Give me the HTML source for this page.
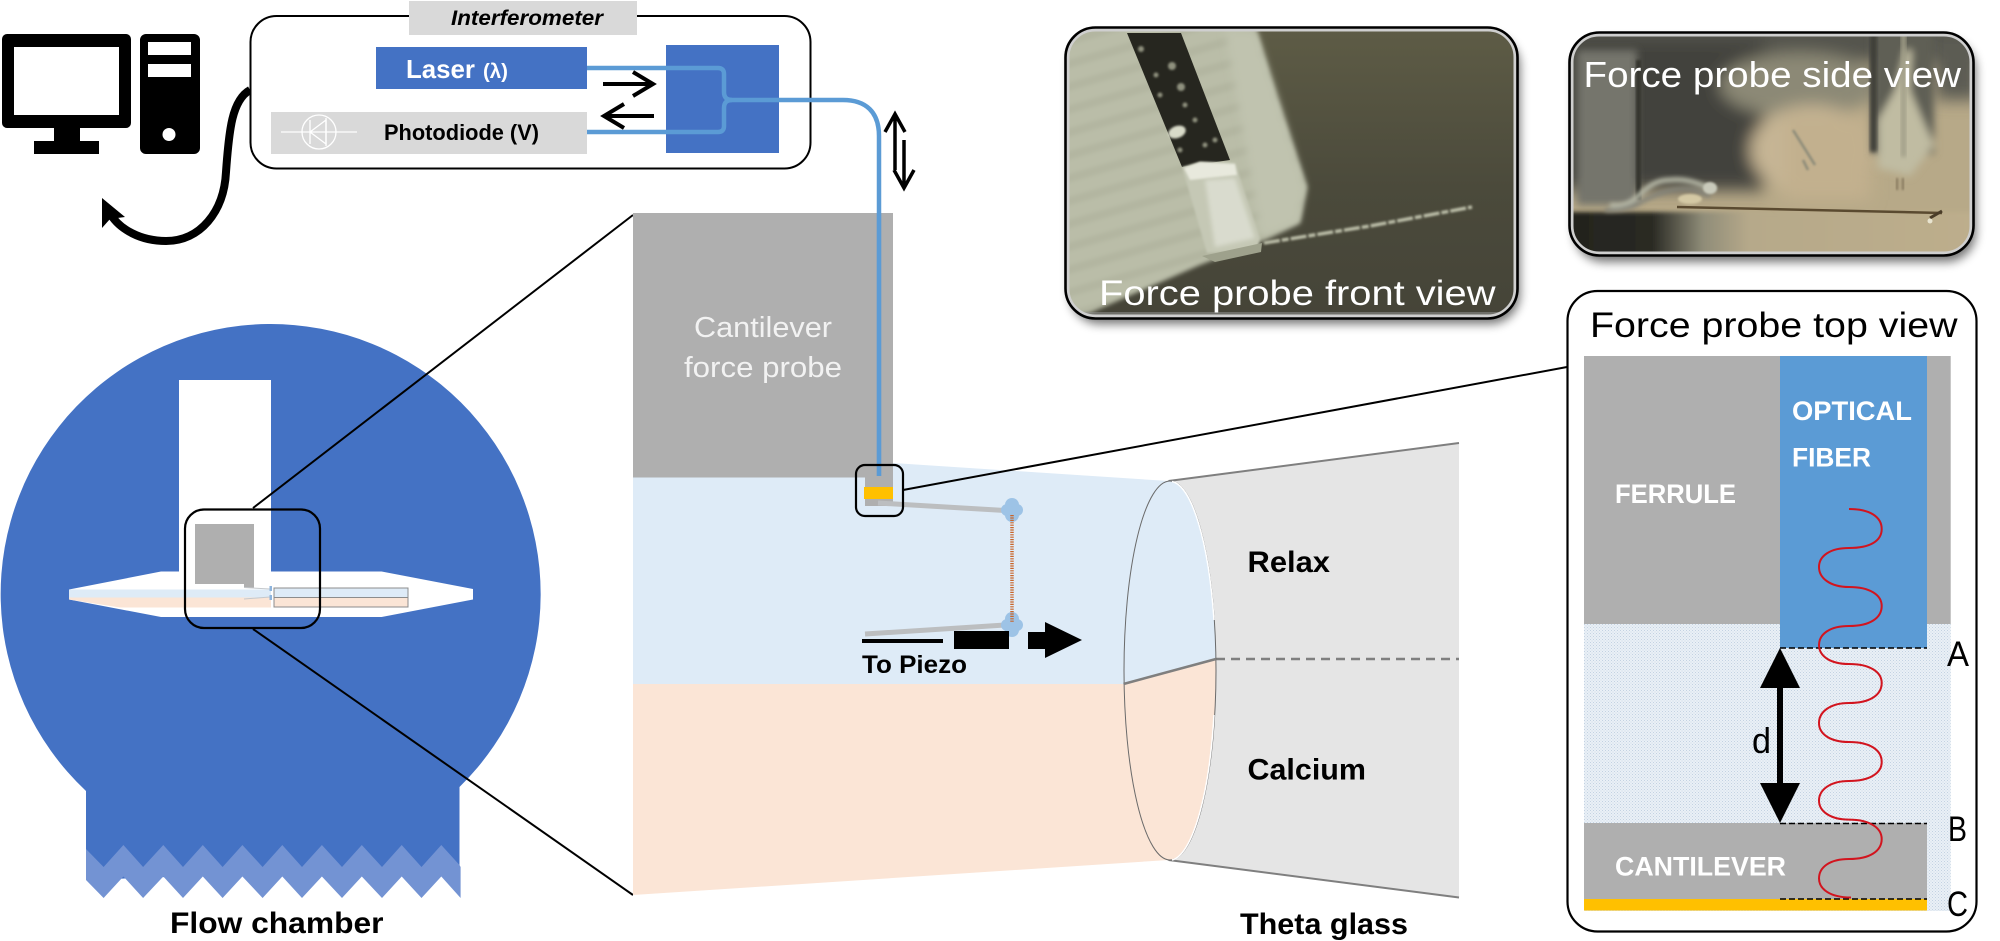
<!DOCTYPE html>
<html><head><meta charset="utf-8"><style>
html,body{margin:0;padding:0;background:#fff;width:2000px;height:941px;overflow:hidden}
svg{display:block}
text{font-family:"Liberation Sans",sans-serif}
.b{font-weight:bold}
</style></head><body>
<svg width="2000" height="941" viewBox="0 0 2000 941" xmlns="http://www.w3.org/2000/svg">
<defs>
<filter id="bl4" x="-30%" y="-30%" width="160%" height="160%"><feGaussianBlur stdDeviation="4"/></filter>
<filter id="bl8" x="-30%" y="-30%" width="160%" height="160%"><feGaussianBlur stdDeviation="8"/></filter>
<filter id="bl2" x="-20%" y="-20%" width="140%" height="140%"><feGaussianBlur stdDeviation="2"/></filter>
<filter id="bl1" x="-20%" y="-50%" width="140%" height="200%"><feGaussianBlur stdDeviation="1"/></filter>
<filter id="sh" x="-10%" y="-10%" width="120%" height="125%"><feGaussianBlur stdDeviation="5"/></filter>
<clipPath id="cf"><rect x="1065" y="27" width="453" height="292" rx="30"/></clipPath>
<clipPath id="cs"><rect x="1569" y="32" width="405" height="224" rx="30"/></clipPath>
<pattern id="dots" width="3" height="3" patternUnits="userSpaceOnUse"><rect width="3" height="3" fill="#eaf0f6"/><rect width="1" height="1" fill="#c3d2e2"/><rect x="1.5" y="1.5" width="1" height="1" fill="#c9d6e5"/></pattern>
<pattern id="stripes" width="40" height="22" patternUnits="userSpaceOnUse" patternTransform="rotate(-16)"><rect width="40" height="22" fill="#babda8"/><rect y="0" width="40" height="8" fill="#b2b5a0"/></pattern>
<linearGradient id="dk" x1="0" y1="0" x2="0" y2="1"><stop offset="0" stop-color="#5e5c46"/><stop offset=".55" stop-color="#4b4a3b"/><stop offset="1" stop-color="#454438"/></linearGradient>
<linearGradient id="sb" x1="0" y1="0" x2="1" y2="0"><stop offset="0" stop-color="#22221d"/><stop offset=".22" stop-color="#2a2a24"/><stop offset=".34" stop-color="#8f8c78"/><stop offset=".45" stop-color="#b6a98a"/><stop offset="1" stop-color="#bdae8c"/></linearGradient>
</defs>

<!-- computer -->
<path fill="#000" fill-rule="evenodd" d="M7 34H126a5 5 0 0 1 5 5V123a5 5 0 0 1-5 5H80V141H99V154H34V141H54V128H7a5 5 0 0 1-5-5V39a5 5 0 0 1 5-5ZM14 47V115H119V47Z"/>
<path fill="#000" fill-rule="evenodd" d="M146 34H194a6 6 0 0 1 6 6V148a6 6 0 0 1-6 6H146a6 6 0 0 1-6-6V40a6 6 0 0 1 6-6ZM148 42V55H191V42ZM148 64V77H191V64Z"/>
<ellipse cx="169" cy="134.500" rx="6.500" ry="6.500" fill="#fff"/>

<!-- cable -->
<path d="M250 90C232 100 229 130 226 172C224 212 200 241 166 241C140 241 120 229 111 215" fill="none" stroke="#000" stroke-width="8"/>
<path d="M102 198L125 217L110 219L102 228Z" fill="#000"/>

<!-- interferometer -->
<rect x="250.500" y="16" width="560" height="152.500" rx="26" fill="#fff" stroke="#000" stroke-width="2"/>
<rect x="409" y="1" width="228" height="34" fill="#d9d9d9"/>
<text x="451" y="25" font-size="21" font-style="italic" font-weight="bold" textLength="152" lengthAdjust="spacingAndGlyphs">Interferometer</text>
<rect x="376" y="47" width="211" height="42" fill="#4472c4"/>
<text x="406" y="78" font-size="26" class="b" fill="#fff" textLength="69" lengthAdjust="spacingAndGlyphs">Laser</text>
<text x="483" y="78" font-size="20" class="b" fill="#fff" textLength="25" lengthAdjust="spacingAndGlyphs">(λ)</text>
<rect x="271" y="112" width="316" height="42" fill="#d9d9d9"/>
<text x="384" y="140" font-size="22" class="b" textLength="155" lengthAdjust="spacingAndGlyphs">Photodiode (V)</text>
<g fill="none" stroke="#fff" stroke-width="1.300"><ellipse cx="319" cy="132" rx="17" ry="17"/><path d="M281 132H357M310 120V144M310 132L326 120V144Z"/><path d="M326 118V146"/></g>
<rect x="666" y="45" width="113" height="108" fill="#4472c4"/>
<g fill="none" stroke="#5b9bd5" stroke-width="4.500">
<path d="M587 68H718Q724 68 724 74V92Q724 100 732 100M587 132H718Q724 132 724 126V108Q724 100 732 100"/>
<path d="M730 100H843C866 100 879 112 879 136V213" />
</g>
<g fill="none" stroke="#000" stroke-width="4">
<path d="M603 84H652M633 72L653 84L633 96"/>
<path d="M654 116H605M624 104L604 116L624 128"/>
</g>
<g fill="none" stroke="#000" stroke-width="3.500">
<path d="M895 114V170M885 132L895 114L905 132"/>
<path d="M904 140V188M894 170L904 188L914 170"/>
</g>

<!-- flow chamber -->
<path d="M86 791A270 270 0 1 1 459.500 787V866L86 880Z" fill="#4472c4"/>
<path fill="#7393d3" d="M86 849L103.600 867L123.400 845L143.100 867L163.300 845L183 867L202.800 845L222.600 867L242.400 845L262.600 867L282.300 845L302 867L321.900 845L342 867L361.800 845L382 867L401.700 845L421.500 867L441.300 845L459.500 865L460.600 867V898L441.300 876.500L421.500 898L401.700 876.500L382 898L361.800 876.500L342 898L321.900 876.500L302 898L282.300 876.500L262.600 898L242.400 876.500L222.600 898L202.800 876.500L183 898L163.300 876.500L143.100 898L123.400 876.500L103.600 898L86 880Z"/>
<rect x="179" y="380" width="92" height="192" fill="#fff"/>
<path d="M69 589.500L161 571.500H381.600L473 589V599.500L381.600 617H161L69 599.500Z" fill="#fff"/>
<path d="M69 589.500H271V597.500H69Z" fill="#deebf7"/>
<path d="M69 597.500H271V607.500H120L69 599.500Z" fill="#fbe5d6"/>
<rect x="274" y="588" width="134" height="9.500" fill="#deebf7" stroke="#8c8c8c"/>
<rect x="274" y="597.500" width="134" height="9.500" fill="#fbe5d6" stroke="#8c8c8c"/>
<path d="M195 524H254V587.500H244V584H195Z" fill="#afafaf"/>
<path d="M244 587.500L270 589M244 599L270 597" stroke="#c4c8cc" stroke-width="1" fill="none"/>
<rect x="269.500" y="586" width="2.500" height="5" fill="#8db4dd"/><rect x="269.500" y="595" width="2.500" height="5" fill="#8db4dd"/>
<rect x="185" y="509.500" width="135" height="118.500" rx="19" fill="none" stroke="#000" stroke-width="2.200"/>
<text x="170" y="933" font-size="30" class="b" textLength="213.500" lengthAdjust="spacingAndGlyphs">Flow chamber</text>

<!-- zoom lines -->
<path d="M253 508L633 215M253 629L633 895" stroke="#000" stroke-width="2" fill="none"/>

<!-- main -->
<path d="M1168.500 481L1459 443V897.500L1168.500 860Z" fill="#e5e5e5"/>
<path d="M1168.500 481L1459 443M1168.500 860L1459 897.500" stroke="#7f7f7f" stroke-width="2" fill="none"/>
<path d="M1216 659H1459" stroke="#7f7f7f" stroke-width="2.400" stroke-dasharray="9 6" fill="none"/>
<path d="M633 477.500H893V463L1168.500 481A46 189.500 0 0 1 1216 659L1123.500 684H633Z" fill="#deebf7"/>
<path d="M633 684H1123.500L1216 659A46 189.500 0 0 1 1168.500 860L633 895Z" fill="#fbe5d6"/>
<ellipse cx="1170" cy="670.500" rx="46" ry="189.500" fill="none" stroke="#6a6a6a" stroke-width="1"/>
<path d="M1172 481.500A46 189.500 0 0 1 1214 620M1214 715A46 189.500 0 0 1 1172 860" fill="none" stroke="#fff" stroke-width="1.500"/>
<path d="M1123.500 684L1216 659" stroke="#7f7f7f" stroke-width="2.500"/>
<rect x="633" y="213" width="260" height="264.500" fill="#afafaf"/>
<text x="694" y="337" font-size="29" fill="#f2f2f2" textLength="138" lengthAdjust="spacingAndGlyphs">Cantilever</text>
<text x="684" y="377" font-size="29" fill="#f2f2f2" textLength="158" lengthAdjust="spacingAndGlyphs">force probe</text>
<text x="1247.500" y="572" font-size="30" class="b" textLength="82.500" lengthAdjust="spacingAndGlyphs">Relax</text>
<text x="1247.500" y="779.500" font-size="30" class="b" textLength="118.500" lengthAdjust="spacingAndGlyphs">Calcium</text>
<text x="1240" y="934" font-size="30" class="b" textLength="168" lengthAdjust="spacingAndGlyphs">Theta glass</text>

<rect x="865" y="477" width="28" height="29" fill="#afafaf"/>
<rect x="876.700" y="213" width="4.600" height="263" fill="#5b9bd5"/>
<rect x="864" y="487" width="29" height="12" fill="#ffc000"/>
<path d="M878 503L1005 510.500M865 634L1005 625" stroke="#bcbec0" stroke-width="5" fill="none"/>
<g fill="#9dc3e6"><circle cx="1012" cy="505" r="7"/><circle cx="1012" cy="515" r="7"/><circle cx="1017" cy="510" r="6"/><circle cx="1007" cy="510" r="6"/>
<circle cx="1012" cy="619" r="7"/><circle cx="1012" cy="630" r="7"/><circle cx="1017" cy="625" r="6"/><circle cx="1007" cy="625" r="6"/></g>
<path d="M1012 515V622" stroke="#c8652a" stroke-width="3.500" stroke-dasharray="1.200 1.200" fill="none"/>
<rect x="862" y="639" width="81" height="4" fill="#000"/>
<rect x="954" y="631" width="55" height="18" fill="#000"/>
<path d="M1028 632H1045V622L1082 640L1045 658V649H1028Z" fill="#000"/>
<text x="862" y="673" font-size="25" class="b" textLength="105" lengthAdjust="spacingAndGlyphs">To Piezo</text>
<rect x="856" y="465" width="47" height="51" rx="9" fill="none" stroke="#000" stroke-width="2.200"/>
<path d="M903 490L1567 367" stroke="#000" stroke-width="2" fill="none"/>

<!-- front photo -->
<rect x="1070" y="36" width="450" height="288" rx="30" fill="#000" opacity=".55" filter="url(#sh)"/>
<g clip-path="url(#cf)">
<rect x="1065" y="27" width="453" height="292" fill="url(#dk)"/>
<path d="M1060 25H1255L1277 97L1307 187L1300 223L1260 242L1200 265L1090 313L1060 320Z" fill="url(#stripes)" filter="url(#bl2)"/>
<path d="M1225 30H1255L1277 97L1305 187L1298 222L1262 238Z" fill="#c0c3af" filter="url(#bl4)"/>
<path d="M1127 33H1181L1230 160L1182 167Z" fill="#26261f"/>
<g fill="#8f917e" filter="url(#bl1)"><circle cx="1141" cy="49" r="3"/><circle cx="1172" cy="66" r="4"/><circle cx="1181" cy="87" r="4"/><circle cx="1156" cy="75" r="2.500"/><circle cx="1160" cy="95" r="2.500"/><circle cx="1195" cy="120" r="2.500"/><circle cx="1185" cy="105" r="2.500"/><circle cx="1205" cy="145" r="2.500"/><circle cx="1215" cy="140" r="2.500"/><circle cx="1180" cy="150" r="2.500"/></g>
<ellipse cx="1177" cy="132" rx="9" ry="6" fill="#d9dbc9" transform="rotate(-20 1177 132)" filter="url(#bl1)"/>
<path d="M1182 167L1200 162L1235 163L1260 238L1257 250L1207 253Z" fill="#c5c8b5" filter="url(#bl1)"/>
<path d="M1184 168L1200 162L1235 164L1237 175L1190 180Z" fill="#e8e9dd" filter="url(#bl1)"/>
<path d="M1205 180L1235 178L1255 238L1215 247Z" fill="#d9dbce" filter="url(#bl2)"/>
<path d="M1202 256L1262 243L1261 252L1215 262Z" fill="#9ea18c"/>
<path d="M1264 243L1370 226L1472 207" stroke="#b9bba6" stroke-width="3.500" stroke-dasharray="16 2 7 2" fill="none" filter="url(#bl1)"/>
<rect x="1065" y="312" width="453" height="7" fill="#999" opacity=".5"/>
</g>
<rect x="1068" y="30" width="447" height="286" rx="27" fill="none" stroke="#cfcfcf" stroke-width="3"/>
<rect x="1065.500" y="27.500" width="452" height="291" rx="30" fill="none" stroke="#000" stroke-width="2.600"/>
<text x="1099" y="305" font-size="35" fill="#fff" textLength="396.500" lengthAdjust="spacingAndGlyphs">Force probe front view</text>

<!-- side photo -->
<rect x="1574" y="40" width="402" height="222" rx="30" fill="#000" opacity=".55" filter="url(#sh)"/>
<g clip-path="url(#cs)">
<rect x="1569" y="32" width="405" height="224" fill="#b7a988"/>
<g filter="url(#bl8)">
<rect x="1560" y="20" width="430" height="42" fill="#55554e"/>
<rect x="1560" y="40" width="205" height="150" fill="#42423c"/>
<ellipse cx="1800" cy="85" rx="80" ry="32" fill="#8c8976"/>
<ellipse cx="1812" cy="150" rx="62" ry="45" fill="#c6b594"/>
<rect x="1785" y="115" width="85" height="85" fill="#c2b08e"/>
<rect x="1935" y="35" width="45" height="65" fill="#5c5c52"/>
</g>
<rect x="1577" y="50" width="60" height="155" fill="#74746c" filter="url(#bl4)"/>
<rect x="1636" y="60" width="5" height="140" fill="#36362f" filter="url(#bl1)"/>
<g filter="url(#bl4)">
<rect x="1872" y="32" width="62" height="122" fill="#5f5e54"/>
<path d="M1878 120L1895 90L1905 50H1912L1910 90L1925 125L1934 145L1910 176L1878 168Z" fill="#c0bca2"/>
</g>
<rect x="1870" y="32" width="7" height="120" fill="#3e3e38" filter="url(#bl2)"/>
<rect x="1901" y="32" width="5" height="125" fill="#a19f88" filter="url(#bl2)"/>
<rect x="1560" y="212" width="420" height="50" fill="url(#sb)" filter="url(#bl2)"/>
<g fill="none" filter="url(#bl2)"><path d="M1610 205C1640 210 1640 180 1670 180C1690 178 1700 185 1715 190" stroke="#b3b5a4" stroke-width="5"/><path d="M1605 210C1635 212 1645 195 1672 190C1690 186 1700 192 1710 196" stroke="#84847a" stroke-width="4"/></g>
<ellipse cx="1690" cy="199" rx="12" ry="5" fill="#d4c9a4" filter="url(#bl1)"/>
<ellipse cx="1710" cy="188" rx="7" ry="6" fill="#c9cabb" filter="url(#bl1)"/>
<path d="M1793 130L1815 165M1803 160L1808 170" stroke="#8b8a78" stroke-width="2.500" filter="url(#bl1)" fill="none"/>
<path d="M1897 178V190M1903 178V190" stroke="#8a7c60" stroke-width="2.500" fill="none" filter="url(#bl1)"/>
<path d="M1677 207L1942 213" stroke="#5a4a30" stroke-width="2.500" fill="none"/>
<path d="M1930 218L1942 211" stroke="#4a3c28" stroke-width="3" fill="none"/>
<circle cx="1930" cy="221" r="2.500" fill="#e8e4d0"/>
</g>
<rect x="1572" y="35" width="399" height="218" rx="27" fill="none" stroke="#cfcfcf" stroke-width="3"/>
<rect x="1569.500" y="32.500" width="404" height="223" rx="30" fill="none" stroke="#000" stroke-width="2.600"/>
<text x="1583.500" y="87" font-size="36" fill="#fff" textLength="377.500" lengthAdjust="spacingAndGlyphs">Force probe side view</text>

<!-- top view -->
<rect x="1567.500" y="291" width="409" height="640.500" rx="30" fill="#fff" stroke="#000" stroke-width="2.200"/>
<text x="1590" y="337" font-size="35" textLength="367.500" lengthAdjust="spacingAndGlyphs">Force probe top view</text>
<rect x="1584" y="624" width="366.700" height="287" fill="url(#dots)"/>
<rect x="1584" y="356" width="366.700" height="268" fill="#afafaf"/>
<rect x="1780" y="356" width="147" height="292" fill="#5b9bd5"/>
<rect x="1584" y="823" width="343" height="76" fill="#afafaf"/>
<rect x="1584" y="899" width="343" height="11.500" fill="#ffc000"/>
<path d="M1780 648H1927M1780 823.500H1927M1780 899H1927" stroke="#000" stroke-width="1.500" stroke-dasharray="6 3" fill="none"/>
<text x="1792" y="420" font-size="27" class="b" fill="#fff" textLength="120" lengthAdjust="spacingAndGlyphs">OPTICAL</text>
<text x="1792" y="466.500" font-size="27" class="b" fill="#fff" textLength="79" lengthAdjust="spacingAndGlyphs">FIBER</text>
<text x="1615" y="503" font-size="27" class="b" fill="#fff" textLength="121" lengthAdjust="spacingAndGlyphs">FERRULE</text>
<text x="1615" y="875.500" font-size="27" class="b" fill="#fff" textLength="171" lengthAdjust="spacingAndGlyphs">CANTILEVER</text>
<path d="M1780 648L1800 688H1783V783H1800L1780 823L1760 783H1777V688H1760Z" fill="#000"/>
<text x="1752" y="753" font-size="36" textLength="19" lengthAdjust="spacingAndGlyphs">d</text>
<text x="1947" y="666" font-size="35" textLength="22" lengthAdjust="spacingAndGlyphs">A</text>
<text x="1948" y="841" font-size="35" textLength="19" lengthAdjust="spacingAndGlyphs">B</text>
<text x="1947" y="916" font-size="35" textLength="21" lengthAdjust="spacingAndGlyphs">C</text>
<path fill="none" stroke="#d2141e" stroke-width="2" d="M1849 509C1870 509 1881.700 517 1881.700 529C1881.700 541 1870 548 1849 548C1830 548 1819 556 1819 567C1819 578 1830 587 1849 587C1870 587 1881.700 595 1881.700 606C1881.700 618 1870 626 1849 626C1830 626 1819 634 1819 645C1819 656 1830 664 1849 664C1870 664 1881.700 672 1881.700 683C1881.700 695 1870 703 1849 703C1830 703 1819 712 1819 723C1819 734 1830 742 1849 742C1870 742 1881.700 750 1881.700 762C1881.700 773 1870 781 1849 781C1830 781 1819 790 1819 800.600C1819 811 1830 819.600 1849 819.600C1870 819.600 1881.700 828 1881.700 839C1881.700 851 1870 859 1849 859C1830 859 1819 867 1819 878.500C1819 889 1830 897.500 1851 897.500"/>
</svg>
</body></html>
